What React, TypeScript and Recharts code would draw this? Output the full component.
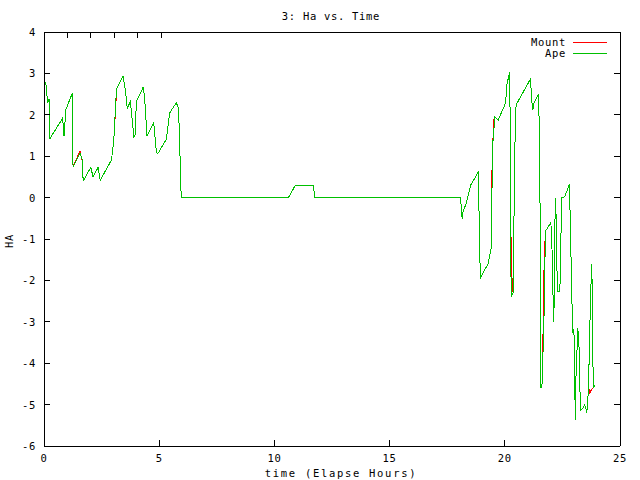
import { Line, LineChart, XAxis, YAxis } from 'recharts'

const hours = [
  0.04, 0.12, 0.14, 0.22, 0.26, 0.81, 0.87, 0.95, 1.23, 1.26, 1.56, 1.66, 1.7, 2.03, 2.13, 2.35, 2.44,
  2.93, 3.03, 3.12, 3.15, 3.43, 3.55, 3.61, 3.75, 3.9, 3.95, 4.01, 4.3, 4.36, 4.47, 4.76, 4.88, 4.95,
  5.31, 5.45, 5.74, 5.83, 5.89, 5.92, 5.96, 10.61, 10.9, 11.7, 11.74, 18.08, 18.15, 18.18, 18.32,
  18.52, 18.84, 18.87, 18.92, 18.93, 19.28, 19.41, 19.45, 19.47, 19.52, 19.57, 19.71, 20.03, 20.1,
  20.22, 20.25, 20.28, 20.32, 20.36, 20.39, 20.43, 20.49, 21.11, 21.18, 21.22, 21.26, 21.47, 21.52,
  21.55, 21.57, 21.62, 21.65, 21.7, 21.72, 21.76, 21.8, 22.0, 22.05, 22.09, 22.13, 22.19, 22.24,
  22.26, 22.31, 22.34, 22.39, 22.41, 22.45, 22.48, 22.6, 22.81, 22.84, 22.91, 22.94, 22.97, 23.0,
  23.03, 23.06, 23.09, 23.17, 23.22, 23.26, 23.3, 23.38, 23.46, 23.52, 23.56, 23.61, 23.65, 23.69,
  23.74, 23.78, 23.81, 23.87, 23.93,
]

const apeHa = [
  2.8, 2.65, 2.28, 2.37, 1.43, 1.92, 1.49, 2.13, 2.52, 0.75, 1.07, 0.92, 0.4, 0.73, 0.5, 0.73, 0.42,
  0.91, 1.39, 2.36, 2.62, 2.94, 2.52, 2.16, 2.32, 1.47, 1.51, 2.32, 2.66, 2.48, 1.49, 1.81, 1.08, 1.07,
  1.41, 2.04, 2.29, 2.18, 1.43, 0.47, 0, 0, 0.29, 0.29, 0, 0, -0.52, -0.36, -0.14,
  0.3, 0.61, -0.04, -1.31, -1.95, -1.59, -1.22, null, 1.25, null, 1.94, 1.87, 2.28, 2.76,
  3.04, -1.02, -2.39, null, -2.3, -0.96, 1.07, 2.24, 2.86, 2.29, 2.11, 2.28, 2.5, 0.75,
  -2.47, -4.6, -4.49, null, null, -2.5, -0.82, -0.78, -0.6, -1.27, -2.31, -3.0, 0, -0.6,
  -1.7, -2.27, -2.27, -2.27, -1.7, -0.6, 0, 0.02, 0.33, -0.58, -2.35, -3.28, -3.18, -3.18,
  -4.24, -5.37, -4.33, -3.16, -3.6, -4.65, -5.13, -5.1, -5.01, -5.1, -5.21, -4.81, -4.17, -3.12,
  -2.11, -1.61, -3.88, -4.57, -4.52,
]

const mountHa = [
  2.8, 2.65, 2.28, 2.37, 1.43, 1.92, 1.49, 2.13, 2.52, 0.75, 1.12, 0.88, 0.4, 0.73, 0.5, 0.73, 0.42,
  0.91, 1.39, 2.25, 2.62, 2.94, 2.52, 2.16, 2.32, 1.47, 1.51, 2.32, 2.66, 2.48, 1.49, 1.81, 1.08, 1.07,
  1.41, 2.04, 2.29, 2.18, 1.43, 0.47, 0, 0, 0.29, 0.29, 0, 0, -0.52, -0.36, -0.14,
  0.3, 0.61, -0.04, -1.31, -1.95, -1.59, -1.22, 0.93, null, 1.87, 1.94, 1.87, 2.28, 2.76,
  3.04, -1.0, -0.95, -2.15, -2.3, -0.96, 1.07, 2.24, 2.86, 2.29, 2.11, 2.28, 2.5, 0.75,
  -2.47, -4.6, -4.49, -3.6, -1.8, null, -0.82, -0.78, -0.6, -1.27, -2.31, -3.0, 0, -0.6,
  -1.7, -2.27, -2.27, -2.27, -1.7, -0.6, 0, 0.02, 0.33, -0.58, -2.35, -3.28, -3.18, -3.18,
  -4.24, -5.37, -4.33, -3.16, -3.6, -4.65, -5.13, -5.1, -5.01, -5.1, -5.21, -4.81, -4.62, -4.72,
  -4.66, null, null, -4.57, -4.52,
]

const xTicks = [0, 5, 10, 15, 20, 25]
const yTicks = [-6, -5, -4, -3, -2, -1, 0, 1, 2, 3, 4]

const rows = hours.map((t, i) => ({ t, ape: apeHa[i], mount: mountHa[i] }))

const FONT = '"DejaVu Sans Mono", monospace'
const text = { fontFamily: FONT, fontSize: 10.5, fill: '#000', letterSpacing: 0.7 }
const frame = { stroke: '#000', shapeRendering: 'crispEdges' }
const TICK = 6

// gnuplot draws its ticks pointing into the plot, so each axis draws its own
function LeftTick({ x, y, payload }: any) {
  return (
    <g>
      <line x1={x} x2={x + TICK} y1={y} y2={y} {...frame} />
      <text x={x - 8} y={y} textAnchor="end" dominantBaseline="central" {...text}>
        {payload.value}
      </text>
    </g>
  )
}

function RightTick({ x, y }: any) {
  return <line x1={x} x2={x - TICK} y1={y} y2={y} {...frame} />
}

function BottomTick({ x, y, payload }: any) {
  return (
    <g>
      <line x1={x} x2={x} y1={y} y2={y - TICK} {...frame} />
      <text x={x} y={y + 12} textAnchor="middle" dominantBaseline="central" {...text}>
        {payload.value}
      </text>
    </g>
  )
}

function TopTick({ x, y }: any) {
  return <line x1={x} x2={x} y1={y} y2={y + TICK} {...frame} />
}

export default function App() {
  return (
    <div style={{ position: 'absolute', left: 0, top: 0, width: 640, height: 480, background: '#fff' }}>
      <LineChart width={640} height={480} data={rows} margin={{ top: 0, right: 0, bottom: 0, left: 1 }}>
        <XAxis
          dataKey="t"
          type="number"
          domain={[0, 25]}
          ticks={xTicks}
          interval={0}
          allowDataOverflow
          height={34}
          tickSize={0}
          tickMargin={0}
          tickLine={false}
          axisLine={frame}
          tick={BottomTick}
        />
        <XAxis
          xAxisId="top"
          orientation="top"
          type="number"
          domain={[0, 25]}
          ticks={xTicks}
          interval={0}
          allowDataOverflow
          height={32}
          tickSize={0}
          tickMargin={0}
          tickLine={false}
          axisLine={frame}
          tick={TopTick}
        />
        <YAxis
          type="number"
          domain={[-6, 4]}
          ticks={yTicks}
          interval={0}
          allowDataOverflow
          width={43}
          tickSize={0}
          tickMargin={0}
          tickLine={false}
          axisLine={frame}
          tick={LeftTick}
        />
        <YAxis
          yAxisId="right"
          orientation="right"
          type="number"
          domain={[-6, 4]}
          ticks={yTicks}
          interval={0}
          allowDataOverflow
          width={20}
          tickSize={0}
          tickMargin={0}
          tickLine={false}
          axisLine={frame}
          tick={RightTick}
        />
        <Line
          dataKey="mount"
          type="linear"
          stroke="#ff0000"
          strokeWidth={1}
          shapeRendering="crispEdges"
          dot={false}
          connectNulls
          isAnimationActive={false}
        />
        <Line
          dataKey="ape"
          type="linear"
          stroke="#00c000"
          strokeWidth={1}
          shapeRendering="crispEdges"
          dot={false}
          connectNulls
          isAnimationActive={false}
        />
      </LineChart>
      <svg width={640} height={480} style={{ position: 'absolute', left: 0, top: 0, pointerEvents: 'none' }}>
        <text x={331} y={16} textAnchor="middle" dominantBaseline="central" {...text}>
          3: Ha vs. Time
        </text>
        <text x={341} y={473} textAnchor="middle" dominantBaseline="central" {...text} letterSpacing={1.7}>
          time (Elapse Hours)
        </text>
        <text
          x={9}
          y={241}
          transform="rotate(-90, 9, 241)"
          textAnchor="middle"
          dominantBaseline="central"
          {...text}
        >
          HA
        </text>
        <text x={566} y={42} textAnchor="end" dominantBaseline="central" {...text}>
          Mount
        </text>
        <line x1={573} x2={607} y1={42} y2={42} stroke="#ff0000" shapeRendering="crispEdges" />
        <text x={566} y={53} textAnchor="end" dominantBaseline="central" {...text}>
          Ape
        </text>
        <line x1={573} x2={607} y1={53} y2={53} stroke="#00c000" shapeRendering="crispEdges" />
      </svg>
    </div>
  )
}
